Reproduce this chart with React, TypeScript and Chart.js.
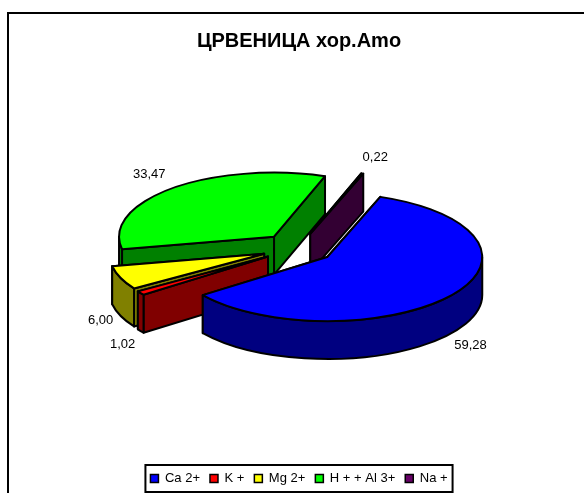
import React, { useEffect, useRef } from "react";
import { Chart, registerables } from "chart.js";

Chart.register(...registerables);

const categories = ["Ca 2+", "K +", "Mg 2+", "H + + Al 3+", "Na +"];
const values = [59.28, 1.02, 6.0, 33.47, 0.22];
const topColors = ["#0000ff", "#ff0000", "#ffff00", "#00ff00", "#660066"];
const sideColors = ["#000080", "#800000", "#808000", "#008000", "#330033"];
const chartTitle = "ЦРВЕНИЦА хор.Amo";

const FONT = "'Liberation Sans', Arial, sans-serif";
const SQUASH = 64 / 155;
const DEPTH = 38;
const EXPLODE = 36.5;
const LIFT = 14;
const SHIFT_X = -1;
const PAINT_ORDER = [4, 3, 2, 1, 0];
const LABEL_NUDGE: number[][] = [
  [19, 12],
  [-18, 13],
  [-20, 5],
  [-23, -14],
  [13, -16],
];

const pie3d = {
  id: "pie3d",
  beforeDraw(chart: any) {
    const { ctx, width, height } = chart;
    ctx.save();
    ctx.fillStyle = "#ffffff";
    ctx.fillRect(0, 0, width, height);
    ctx.strokeStyle = "#000000";
    ctx.lineWidth = 2;
    ctx.strokeRect(8, 13, width + 20, height + 20);
    ctx.restore();
  },
  beforeDatasetsDraw(chart: any) {
    const { ctx } = chart;
    const arcs = chart.getDatasetMeta(0).data;
    ctx.save();
    ctx.lineJoin = "round";
    ctx.lineWidth = 2;
    ctx.strokeStyle = "#000000";
    for (const i of PAINT_ORDER) {
      const arc = arcs[i];
      const R = arc.outerRadius;
      const ry = R * SQUASH;
      const mid = (arc.startAngle + arc.endAngle) / 2;
      const cx = arc.x + SHIFT_X + Math.cos(mid) * EXPLODE;
      const cy = arc.y - LIFT + Math.sin(mid) * EXPLODE * SQUASH;
      const edge = (a: number) => [cx + R * Math.cos(a), cy + ry * Math.sin(a)];

      ctx.fillStyle = sideColors[i];
      const faces = [arc.startAngle, arc.endAngle].sort(
        (a: number, b: number) => edge(a)[1] - edge(b)[1]
      );
      for (const a of faces) {
        const [ex, ey] = edge(a);
        ctx.beginPath();
        ctx.moveTo(cx, cy);
        ctx.lineTo(ex, ey);
        ctx.lineTo(ex, ey + DEPTH);
        ctx.lineTo(cx, cy + DEPTH);
        ctx.closePath();
        ctx.fill();
        ctx.stroke();
      }

      for (let k = -1; k <= 1; k++) {
        const lo = Math.max(arc.startAngle, k * 2 * Math.PI);
        const hi = Math.min(arc.endAngle, k * 2 * Math.PI + Math.PI);
        if (hi <= lo) continue;
        ctx.beginPath();
        ctx.ellipse(cx, cy, R, ry, 0, lo, hi);
        ctx.ellipse(cx, cy + DEPTH, R, ry, 0, hi, lo, true);
        ctx.closePath();
        ctx.fill();
        ctx.stroke();
      }

      ctx.fillStyle = topColors[i];
      ctx.beginPath();
      ctx.moveTo(cx, cy);
      ctx.ellipse(cx, cy, R, ry, 0, arc.startAngle, arc.endAngle);
      ctx.closePath();
      ctx.fill();
      ctx.stroke();
    }

    ctx.fillStyle = "#000000";
    ctx.font = `13px ${FONT}`;
    ctx.textAlign = "center";
    ctx.textBaseline = "middle";
    arcs.forEach((arc: any, i: number) => {
      const mid = (arc.startAngle + arc.endAngle) / 2;
      const R = arc.outerRadius;
      const front = Math.sin(mid) > 0 ? DEPTH : 0;
      const x = arc.x + SHIFT_X + Math.cos(mid) * (EXPLODE + R);
      const y = arc.y - LIFT + Math.sin(mid) * (EXPLODE + R) * SQUASH + front;
      ctx.fillText(values[i].toFixed(2).replace(".", ","), x + LABEL_NUDGE[i][0], y + LABEL_NUDGE[i][1]);
    });
    ctx.restore();
    return false;
  },
  afterDraw(chart: any) {
    const { ctx, legend } = chart;
    const boxes = legend.legendHitBoxes;
    const left = Math.min(...boxes.map((b: any) => b.left));
    const last = boxes[boxes.length - 1];
    ctx.save();
    ctx.strokeStyle = "#000000";
    ctx.lineWidth = 2;
    ctx.strokeRect(left - 5, last.top - 7, last.left + last.width - left + 10, last.height + 14);
    ctx.restore();
  },
};

export default function App() {
  const ref = useRef<HTMLCanvasElement | null>(null);
  useEffect(() => {
    const chart = new Chart(ref.current as HTMLCanvasElement, {
      type: "pie",
      data: {
        labels: categories,
        datasets: [
          {
            data: values,
            backgroundColor: topColors,
            borderColor: "#000000",
            borderWidth: 1.5,
            radius: 155,
          } as any,
        ],
      },
      options: {
        responsive: false,
        animation: false,
        rotation: 20,
        layout: { padding: { left: 14, right: 0, top: 0, bottom: 0 } },
        plugins: {
          tooltip: { enabled: false },
          title: {
            display: true,
            text: chartTitle,
            color: "#000000",
            font: { family: FONT, size: 20, weight: "bold" },
            padding: { top: 29, bottom: 9 },
          },
          legend: {
            position: "bottom",
            labels: {
              boxWidth: 8,
              boxHeight: 8,
              padding: 10,
              color: "#000000",
              font: { family: FONT, size: 13 },
            },
          },
        },
      },
      plugins: [pie3d],
    } as any);
    return () => chart.destroy();
  }, []);
  return (
    <div style={{ position: "fixed", left: 0, top: 0, width: 584, height: 493, overflow: "hidden" }}>
      <canvas ref={ref} width={584} height={495} style={{ display: "block" }} />
    </div>
  );
}
